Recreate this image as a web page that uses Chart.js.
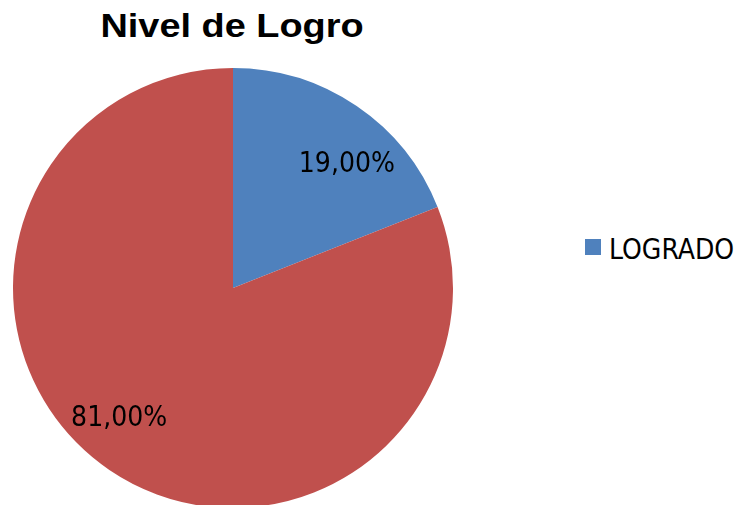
<!DOCTYPE html>
<html lang="es">
  <head>
    <meta charset="UTF-8" />
    <title>Nivel de Logro</title>
    <style>
      body {
        margin: 0;
        padding: 0;
        background-color: #fff;
        overflow: hidden;
        width: 741px;
        height: 505px;
        position: relative;
      }

      h1 {
        position: absolute;
        left: -1px;
        top: 9px;
        width: 466px;
        margin: 0;
        text-align: center;
        font-family: "Liberation Sans", Arial, sans-serif;
        font-size: 33px;
        line-height: 33px;
        font-weight: bold;
        color: #000;
        transform: scaleX(1.148);
        transform-origin: 50% 50%;
      }

      .chart-container {
        position: absolute;
        left: 0;
        top: 0;
        width: 466px;
        height: 530px;
      }

      .legend .swatch {
        position: absolute;
        left: 585px;
        top: 239px;
        width: 16px;
        height: 16px;
      }

      .legend .name {
        position: absolute;
        left: 609px;
        top: 236px;
        font-family: "DejaVu Sans Condensed", "DejaVu Sans", sans-serif;
        font-size: 28px;
        line-height: 28px;
        color: #000;
        white-space: nowrap;
      }
    </style>
  </head>
  <body>
    <h1>Nivel de Logro</h1>
    <div class="chart-container">
      <canvas id="logroChart" width="466" height="530"></canvas>
    </div>
    <div class="legend" id="legend"></div>

    <script src="https://cdn.jsdelivr.net/npm/chart.js"></script>
    <script>
      const categories = ["LOGRADO", ""];
      const percentages = [19, 81];
      const sliceColors = ["#4F81BD", "#C0504D"];

      // percentage labels, Excel-style "19,00%"
      const sliceLabels = {
        id: "sliceLabels",
        afterDatasetsDraw(chart) {
          const ctx = chart.ctx;
          const meta = chart.getDatasetMeta(0);
          ctx.save();
          ctx.font = "28px 'DejaVu Sans Condensed', 'DejaVu Sans', sans-serif";
          ctx.fillStyle = "#000";
          ctx.textAlign = "center";
          ctx.textBaseline = "middle";
          meta.data.forEach((arc, i) => {
            const p = arc.getProps(["x", "y", "startAngle", "endAngle", "outerRadius"], true);
            const mid = (p.startAngle + p.endAngle) / 2 + (7.7 * Math.PI) / 180;
            const r = p.outerRadius * 0.775;
            const text = percentages[i].toFixed(2).replace(".", ",") + "%";
            ctx.fillText(text, p.x + Math.cos(mid) * r, p.y + Math.sin(mid) * r + 4);
          });
          ctx.restore();
        },
      };

      const ctx = document.getElementById("logroChart").getContext("2d");
      new Chart(ctx, {
        type: "pie",
        data: {
          labels: categories,
          datasets: [
            {
              data: percentages,
              backgroundColor: sliceColors,
              borderWidth: 0,
            },
          ],
        },
        options: {
          responsive: false,
          animation: false,
          devicePixelRatio: 1,
          layout: {
            padding: { left: 13, right: 13, top: 68, bottom: 22 },
          },
          plugins: {
            legend: { display: false },
            tooltip: { enabled: false },
            title: { display: false },
          },
        },
        plugins: [sliceLabels],
      });

      // legend only lists named categories
      const legend = document.getElementById("legend");
      categories.forEach((name, i) => {
        if (!name) return;
        const sw = document.createElement("span");
        sw.className = "swatch";
        sw.style.backgroundColor = sliceColors[i];
        const label = document.createElement("span");
        label.className = "name";
        label.textContent = name;
        legend.appendChild(sw);
        legend.appendChild(label);
      });
    </script>
  </body>
</html>
